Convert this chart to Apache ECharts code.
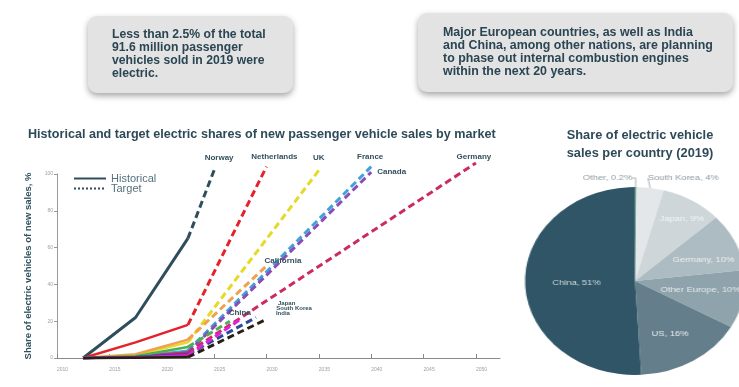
<!DOCTYPE html>
<html><head><meta charset="utf-8">
<script src="https://cdn.jsdelivr.net/npm/echarts@6/dist/echarts.min.js"></script>
<style>
html,body{margin:0;padding:0;background:#fff;overflow:hidden;width:739px;height:387px}
#main{position:absolute;left:0;top:0;width:739px;height:387px}
#pie{position:absolute;left:500px;top:0;width:205px;height:387px;transform:scaleX(1.17);transform-origin:0 0}
</style></head><body>
<div id="main"></div><div id="pie"></div>
<script>
// ---------- data ----------
const marketNames = ['Norway','Netherlands','UK','France','Canada','Germany','California','China','Japan','South Korea','India'];
const histYears = [2012.5, 2017.5, 2022.5];
const histValues = [
  [0,22,65],[0,8.5,18],[0,1.5,8.5],[0,0.8,4],[0,0.5,3],[0,0.5,3],[0,2,10],[0,1,6],[0,0.5,2],[0,0.3,1.5],[0,0.1,0.5]
];
const targetYears  = [2025,2030,2035,2040,2040,2050,2030,2026.5,2029,2027.5,2030];
const targetValues = [102,104,102,104,101,106,50,20,22,21,21];
const xTicks = [2010,2015,2020,2025,2030,2035,2040,2045,2050];
const yTicks = [0,20,40,60,80,100];
const pieNames  = ['Other','South Korea','Japan','Germany','Other Europe','US','China'];
const pieValues = [0.2,4,9,10,10,16,51];
const box1Lines = ['Less than 2.5% of the total','91.6 million passenger','vehicles sold in 2019 were','electric.'];
const box2Lines = ['Major European countries, as well as India','and China, among other nations, are planning','to phase out internal combustion engines','within the next 20 years.'];
const mainTitle = 'Historical and target electric shares of new passenger vehicle sales by market';
const pieTitle = 'Share of electric vehicle\nsales per country (2019)';
const yName = 'Share of electric vehicles of new sales, %';

// ---------- styles ----------
const FONT = '"Liberation Sans", Arial, sans-serif';
const marketColors = ['#2f4d5c','#e5222b','#e6d928','#3fa2dc','#8b4cb5','#cc2a62','#f0a050','#4caf50','#2a4a9a','#e020d8','#2a1f14'];
const pieColors = ['#3d9b5a','#e4e7e9','#cfd6d9','#adbcc2','#8ea3ab','#647f8b','#2f5566'];
const endLabelStyle = {
  'Norway':      {position:'top', distance:3, offset:[5,-5]},
  'Netherlands': {position:'top', distance:3, offset:[8,-1.5]},
  'UK':          {position:'top', distance:3, offset:[0,-5]},
  'France':      {position:'top', distance:3, offset:[-1,-1.5]},
  'Canada':      {position:'right', distance:5, offset:[0,0]},
  'Germany':     {position:'top', distance:1, offset:[-2,0]},
  'California':  {position:'top', distance:2, offset:[16.5,2]},
  'China':       {position:'top', distance:2, offset:[10,-1]},
  'Japan':       {position:'right', distance:5, offset:[16,-14.5], fontSize:6},
  'South Korea': {position:'right', distance:5, offset:[30,-11], fontSize:6},
  'India':       {position:'right', distance:5, offset:[3.5,-6], fontSize:6}
};
const pieLabelStyle = {
  'Other':        {position:'outside', color:'#8f9aa0'},
  'South Korea':  {position:'outside', color:'#8f9aa0'},
  'Japan':        {offset:[14,-19], color:'#f3f5f6'},
  'Germany':      {offset:[13,0], color:'#eef1f2'},
  'Other Europe': {offset:[7,-1], color:'#e6ebed'},
  'US':           {offset:[3.5,10], color:'#e8eef0'},
  'China':        {color:'#d0dade'}
};

// ---------- main chart ----------
const series = [];
marketNames.forEach((name, i) => {
  series.push({
    type:'line', name:name+' hist', symbol:'none', clip:false, silent:true,
    lineStyle:{color:marketColors[i], width: i===0 ? 3 : 2.5, join:'round'},
    data: histYears.map((y, k) => [y, histValues[i][k]])
  });
  const ls = endLabelStyle[name];
  series.push({
    type:'line', name:name+' target', symbol:'circle', symbolSize:2, showSymbol:true, showAllSymbol:true,
    clip:false, silent:true,
    itemStyle:{color:'rgba(0,0,0,0)', borderWidth:0},
    lineStyle:{color:marketColors[i], width:3, type:[7,4], cap:'butt'},
    data: [
      [histYears[histYears.length-1], histValues[i][histValues[i].length-1]],
      {value:[targetYears[i], targetValues[i]], label:Object.assign({
        show:true, formatter:name, color:'#34505e', fontWeight:'bold', fontSize:8, fontFamily:FONT
      }, ls)}
    ]
  });
});
// legend dummy series
series.push({type:'line', name:'Historical', data:[], symbol:'none', lineStyle:{color:'#2f4d5c', width:3}});
series.push({type:'line', name:'Target', data:[], symbol:'none', lineStyle:{color:'#2f4d5c', width:2, type:'dotted'}});

const main = echarts.init(document.getElementById('main'), null, {renderer:'canvas'});
main.setOption({
  animation:false,
  backgroundColor:'#ffffff',
  grid:{left:57, right:239, top:174, bottom:29, containLabel:false},
  legend:{
    data:['Historical','Target'], orient:'vertical', left:68, top:168,
    itemWidth:32, itemHeight:10, itemGap:-1, selectedMode:false,
    itemStyle:{opacity:0, borderWidth:0},
    textStyle:{color:'#56707e', fontSize:11, fontFamily:FONT}
  },
  xAxis:{
    type:'value', min:2010, max:2052.3, interval:5,
    splitLine:{show:false},
    axisLine:{show:true, lineStyle:{color:'#8a8a8a', width:1}},
    axisTick:{show:true, inside:true, length:4, customValues:xTicks, lineStyle:{color:'#8a8a8a'}},
    axisLabel:{customValues:xTicks, fontSize:5, color:'#a0a0a0', margin:9, align:'left', fontFamily:FONT, formatter:v=>String(v)}
  },
  yAxis:{
    type:'value', min:0, max:100, interval:20,
    name:yName, nameLocation:'middle', nameRotate:90, nameGap:24,
    nameTextStyle:{fontSize:9.5, fontWeight:'bold', color:'#2e5060', fontFamily:FONT},
    splitLine:{show:false},
    axisLine:{show:true, lineStyle:{color:'#9a9a9a', width:1}},
    axisTick:{show:true, length:3, customValues:yTicks, lineStyle:{color:'#9a9a9a'}},
    axisLabel:{customValues:yTicks, fontSize:5, color:'#a0a0a0', margin:4, fontFamily:FONT}
  },
  graphic:[
    {type:'rect', shape:{x:88,y:16,width:205,height:77,r:9}, style:{fill:'#e3e3e3', shadowBlur:6, shadowOffsetY:3, shadowColor:'rgba(0,0,0,0.35)'}},
    {type:'text', x:112, y:28.5, style:{text:box1Lines.join('\n'), font:'bold 12.2px '+FONT, fill:'#2a4553', lineHeight:12.8, align:'left', verticalAlign:'top'}},
    {type:'rect', shape:{x:418,y:13,width:315,height:79,r:9}, style:{fill:'#e3e3e3', shadowBlur:6, shadowOffsetY:3, shadowColor:'rgba(0,0,0,0.35)'}},
    {type:'text', x:443, y:26.5, style:{text:box2Lines.join('\n'), font:'bold 12.4px '+FONT, fill:'#2a4553', lineHeight:12.8, align:'left', verticalAlign:'top'}},
    {type:'text', x:28, y:135, style:{text:mainTitle, font:'bold 12.6px '+FONT, fill:'#2e4a58', align:'left', verticalAlign:'middle'}},
    {type:'text', x:640, y:144, style:{text:pieTitle, font:'bold 12.8px '+FONT, fill:'#2e4a58', align:'center', verticalAlign:'middle', lineHeight:18}}
  ],
  series:series
});

// ---------- pie chart (horizontally stretched container) ----------
const pie = echarts.init(document.getElementById('pie'), null, {renderer:'canvas'});
pie.setOption({
  animation:false,
  series:[{
    type:'pie', center:[115.4,281], radius:94, startAngle:90, clockwise:true,
    avoidLabelOverlap:false, silent:true,
    itemStyle:{borderWidth:0},
    label:{show:true, position:'inside', formatter:'{b}, {c}%', fontSize:8, fontFamily:FONT, color:'#eef2f3'},
    labelLine:{show:true, length:5, length2:3, lineStyle:{color:'#9aa4aa', width:0.8}},
    labelLayout: function(p){
      if (p.dataIndex === 0) return {x:113, y:178, align:'right', verticalAlign:'middle'};
      if (p.dataIndex === 1) return {x:126.5, y:178, align:'left', verticalAlign:'middle'};
      return {};
    },
    data: pieNames.map((n,i)=>({name:n, value:pieValues[i], itemStyle:{color:pieColors[i]}, label:pieLabelStyle[n]}))
  }]
});
</script></body></html>
